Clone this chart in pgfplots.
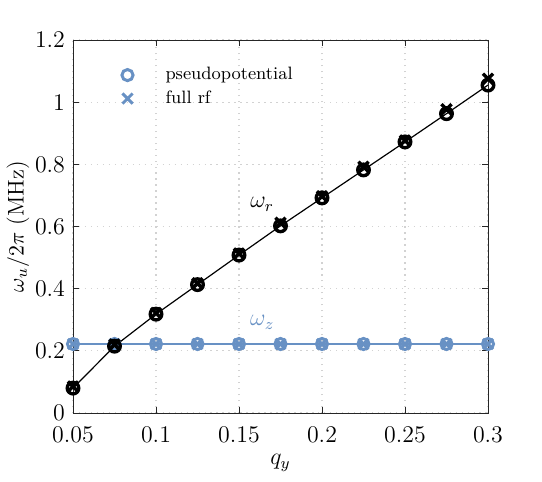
\documentclass[border=0pt]{standalone}
\usepackage{pgfplots}
\pgfplotsset{compat=1.18}
\definecolor{mblue}{RGB}{104,145,196}
\definecolor{axgray}{RGB}{38,38,38}
\begin{document}
\begin{tikzpicture}
\begin{axis}[
  at={(0,0)}, anchor=south west,
  scale only axis, width=207.5bp, height=186.5bp,
  xmin=0.05, xmax=0.3, ymin=0, ymax=1.2,
  xtick={0.05,0.1,0.15,0.2,0.25,0.3},
  xticklabels={0.05,0.1,0.15,0.2,0.25,0.3},
  ytick={0,0.2,0.4,0.6,0.8,1,1.2},
  yticklabels={0,0.2,0.4,0.6,0.8,1,1.2},
  tick align=inside, major tick length=3bp,
  axis line style={axgray, line width=0.5pt},
  tick style={axgray, line width=0.5pt},
  grid=major, grid style={dash pattern=on 0.7pt off 2.3pt, gray!35, line width=0.6pt},
  ticklabel style={font=\large},
  xticklabel style={yshift=-3.5bp},
  yticklabel style={xshift=-0.5bp},
  xlabel={$q_y$}, ylabel={$\omega_u/2\pi$ (MHz)},
  every axis x label/.style={at={(axis description cs:0.5,-0.134)}, anchor=center, font=\large},
  every axis y label/.style={at={(axis description cs:-0.1325,0.5)}, anchor=center, rotate=90, font=\fontsize{11.4}{13}\selectfont},
  legend style={draw=none, fill=none, at={(0.075,0.949)}, anchor=north west, font=\small, row sep=0bp},
  legend cell align=left,
]
\addlegendimage{mblue, mark size=2.8pt, line width=1.5pt,
  legend image code/.code={\draw plot[mark=o, only marks] coordinates {(0.3cm,0cm)}; \path[draw=none,fill=none] (0cm,0cm) rectangle (0.9cm,0.01cm);}}
\addlegendentry{pseudopotential}
\addlegendimage{mblue, mark size=3.6pt, line width=1.5pt,
  legend image code/.code={\draw plot[mark=x, only marks] coordinates {(0.3cm,0cm)}; \path[draw=none,fill=none] (0cm,0cm) rectangle (0.9cm,0.01cm);}}
\addlegendentry{full rf}

% omega_z line
\addplot[mblue, line width=0.7pt, forget plot] coordinates {(0.05,0.222) (0.3,0.222)};
\addplot[only marks, mark=o, mblue, mark size=2.8pt, line width=1.5pt, forget plot] coordinates {
(0.05,0.222)(0.075,0.222)(0.1,0.222)(0.125,0.222)(0.15,0.222)(0.175,0.222)(0.2,0.222)(0.225,0.222)(0.25,0.222)(0.275,0.222)(0.3,0.222)};
\addplot[only marks, mark=x, mblue, mark size=3.6pt, line width=1.5pt, forget plot] coordinates {
(0.05,0.222)(0.075,0.222)(0.1,0.222)(0.125,0.222)(0.15,0.222)(0.175,0.222)(0.2,0.222)(0.225,0.222)(0.25,0.222)(0.275,0.222)(0.3,0.222)};

% omega_r
\addplot[black, line width=0.6pt, forget plot] coordinates {
(0.05,0.08)(0.075,0.215)(0.1,0.318)(0.125,0.413)(0.15,0.508)(0.175,0.602)(0.2,0.692)(0.225,0.782)(0.25,0.872)(0.275,0.963)(0.3,1.055)};
\addplot[only marks, mark=o, black, mark size=2.9pt, line width=1.7pt, forget plot] coordinates {
(0.05,0.08)(0.075,0.215)(0.1,0.318)(0.125,0.413)(0.15,0.508)(0.175,0.602)(0.2,0.692)(0.225,0.782)(0.25,0.872)(0.275,0.963)(0.3,1.055)};
\addplot[only marks, mark=x, black, mark size=3.6pt, line width=1.7pt, forget plot] coordinates {
(0.05,0.085)(0.075,0.22)(0.1,0.322)(0.125,0.417)(0.15,0.513)(0.175,0.612)(0.2,0.697)(0.225,0.792)(0.25,0.877)(0.275,0.977)(0.3,1.075)};

\node[font=\large] at (axis cs:0.164,0.672) {$\omega_r$};
\node[font=\large, text=mblue] at (axis cs:0.164,0.292) {$\omega_z$};
\end{axis}
\pgfresetboundingbox
\path[use as bounding box] (-36.5bp,-34.5bp) rectangle (234.5bp,206.5bp);
\end{tikzpicture}
\end{document}
